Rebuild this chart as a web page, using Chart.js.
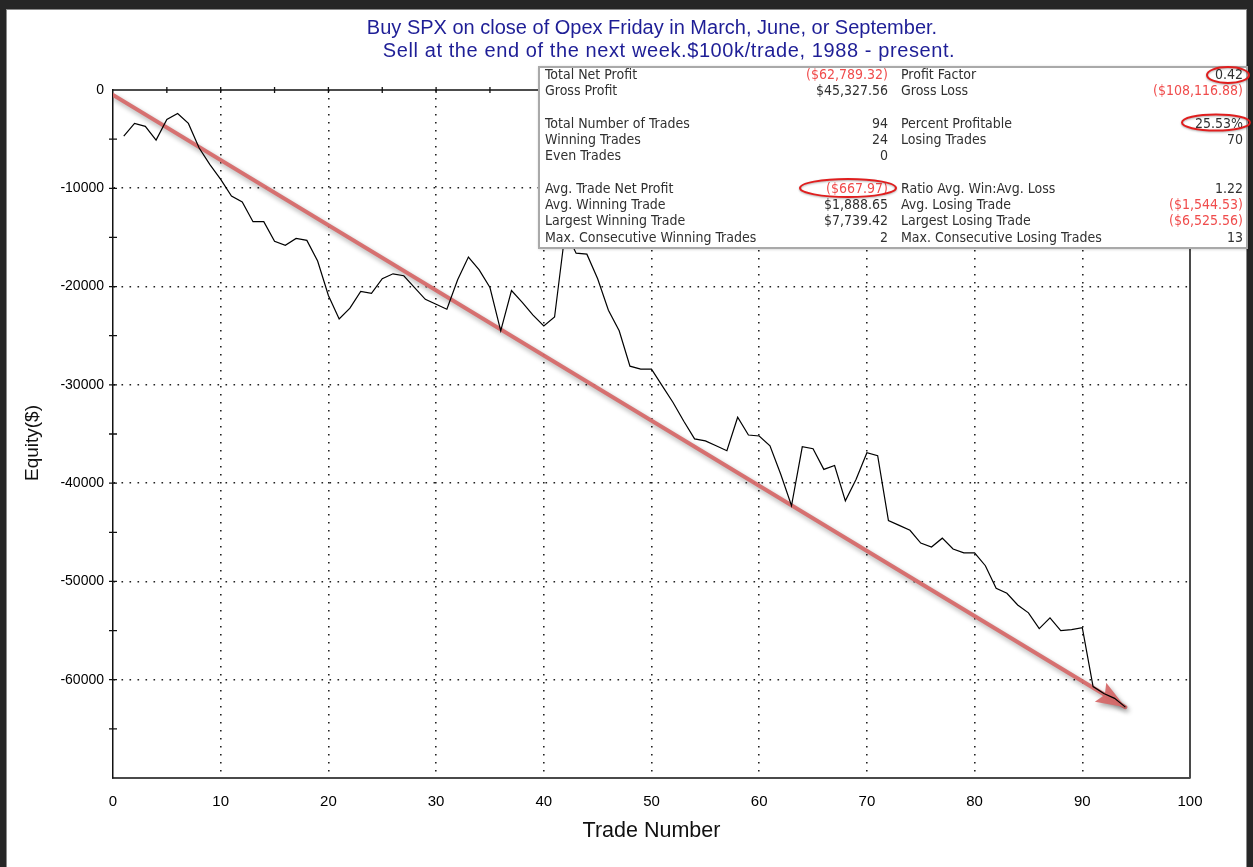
<!DOCTYPE html>
<html>
<head>
<meta charset="utf-8">
<script src="https://cdn.jsdelivr.net/npm/chart.js@4.4.1/dist/chart.umd.min.js"></script>
<style>
  html, body { margin: 0; padding: 0; background: #262626; }
  #wrap { width: 1253px; height: 867px; position: relative; }
</style>
</head>
<body>
<div id="wrap"><canvas id="equityChart"></canvas></div>
<script>
// trade number and equity (closed trade P/L running total)
const tradeNumbers = [
  1, 2, 3, 4, 5, 6, 7, 8, 9, 10, 11, 12, 13, 14, 15, 16, 17, 18, 19, 20,
  21, 22, 23, 24, 25, 26, 27, 28, 29, 30, 31, 32, 33, 34, 35, 36, 37, 38, 39, 40,
  41, 42, 43, 44, 45, 46, 47, 48, 49, 50, 51, 52, 53, 54, 55, 56, 57, 58, 59, 60,
  61, 62, 63, 64, 65, 66, 67, 68, 69, 70, 71, 72, 73, 74, 75, 76, 77, 78, 79, 80,
  81, 82, 83, 84, 85, 86, 87, 88, 89, 90, 91, 92, 93, 94
];
const equity = [
  -4700, -3400, -3700, -5100, -3000, -2400, -3400, -5900, -7600, -9100,
  -10800, -11400, -13400, -13400, -15400, -15800, -15100, -15300, -17400, -20900,
  -23300, -22200, -20500, -20700, -19200, -18700, -18900, -20100, -21300, -21800,
  -22300, -19300, -17000, -18300, -20100, -24500, -20400, -21600, -22900, -24000,
  -23100, -14300, -16600, -16700, -19200, -22400, -24500, -28100, -28400, -28400,
  -30100, -31800, -33700, -35500, -35700, -36200, -36700, -33300, -35100, -35200,
  -36200, -39100, -42300, -36300, -36500, -38600, -38200, -41800, -39600, -36900,
  -37200, -43800, -44300, -44800, -46100, -46500, -45600, -46700, -47100, -47100,
  -48400, -50700, -51200, -52400, -53200, -54800, -53700, -55000, -54900, -54700,
  -60700, -61400, -61900, -62789
];
// hand drawn trend arrow, start and end
const trendX = [0, 94];
const trendY = [-500, -62800];

const titleLines = [
  "Buy SPX on close of Opex Friday in March, June, or September.",
  "Sell at the end of the next week.$100k/trade, 1988 - present."
];

// performance summary box
const leftLabels = ["Total Net Profit", "Gross Profit", "", "Total Number of Trades", "Winning Trades", "Even Trades", "",
  "Avg. Trade Net Profit", "Avg. Winning Trade", "Largest Winning Trade", "Max. Consecutive Winning Trades"];
const leftValues = ["($62,789.32)", "$45,327.56", "", "94", "24", "0", "",
  "($667.97)", "$1,888.65", "$7,739.42", "2"];
const rightLabels = ["Profit Factor", "Gross Loss", "", "Percent Profitable", "Losing Trades", "", "",
  "Ratio Avg. Win:Avg. Loss", "Avg. Losing Trade", "Largest Losing Trade", "Max. Consecutive Losing Trades"];
const rightValues = ["0.42", "($108,116.88)", "", "25.53%", "70", "", "",
  "1.22", "($1,544.53)", "($6,525.56)", "13"];

const tickFont = "Liberation Sans, Arial, sans-serif";
const boxFont = "'DejaVu Sans Condensed', 'DejaVu Sans', sans-serif";
const trendColor = "rgba(214,106,106,0.95)";

const frame = {
  id: "frame",
  beforeDraw(chart) {
    const ctx = chart.ctx;
    ctx.save();
    ctx.fillStyle = "#262626";
    ctx.fillRect(0, 0, chart.width, chart.height);
    ctx.fillStyle = "#ffffff";
    ctx.fillRect(6, 9, 1241, 858);
    ctx.strokeStyle = "#8a8a8a";
    ctx.lineWidth = 1;
    ctx.strokeRect(6.5, 9.5, 1240, 860);
    ctx.restore();
  },
};

// shadow + arrow head for the trend line
const arrow = {
  id: "arrow",
  beforeDatasetDraw(chart, args) {
    if (args.index !== 1) return;
    const ctx = chart.ctx;
    ctx.save();
    ctx.shadowColor = "rgba(0,0,0,0.35)";
    ctx.shadowBlur = 5;
    ctx.shadowOffsetX = 2;
    ctx.shadowOffsetY = 3;
  },
  afterDatasetDraw(chart, args) {
    if (args.index !== 1) return;
    const ctx = chart.ctx;
    const xs = chart.scales.x, ys = chart.scales.y;
    const x0 = xs.getPixelForValue(trendX[0]), y0 = ys.getPixelForValue(trendY[0]);
    const x1 = xs.getPixelForValue(trendX[1]), y1 = ys.getPixelForValue(trendY[1]);
    const a = Math.atan2(y1 - y0, x1 - x0);
    const len = 29, half = 11;
    const bx = x1 - len * Math.cos(a), by = y1 - len * Math.sin(a);
    ctx.beginPath();
    ctx.moveTo(x1, y1);
    ctx.lineTo(bx + half * Math.sin(a), by - half * Math.cos(a));
    ctx.lineTo(bx + 5 * Math.cos(a), by + 5 * Math.sin(a));
    ctx.lineTo(bx - half * Math.sin(a), by + half * Math.cos(a));
    ctx.closePath();
    ctx.fillStyle = trendColor;
    ctx.fill();
    ctx.restore();
  },
};

const extras = {
  id: "extras",
  afterDraw(chart) {
    const ctx = chart.ctx;
    const area = chart.chartArea;
    const xs = chart.scales.x, ys = chart.scales.y;
    ctx.save();

    // right and top border, crossing tick marks
    ctx.strokeStyle = "#4a4a4a";
    ctx.lineWidth = 2;
    ctx.beginPath();
    ctx.moveTo(area.right, area.top);
    ctx.lineTo(area.right, area.bottom);
    ctx.stroke();
    ctx.strokeStyle = "#111";
    ctx.lineWidth = 1.5;
    ctx.beginPath();
    ctx.moveTo(area.left, area.top);
    ctx.lineTo(area.right, area.top);
    ctx.stroke();
    ctx.lineWidth = 1.3;
    ctx.beginPath();
    ys.ticks.forEach((t) => {
      if (t.value === 0 || t.value === -70000) return;
      const y = ys.getPixelForValue(t.value);
      ctx.moveTo(area.left - 4, y);
      ctx.lineTo(area.left + 4, y);
    });
    xs.ticks.forEach((t) => {
      if (t.value === 0 || t.value === 100) return;
      const x = xs.getPixelForValue(t.value);
      ctx.moveTo(x, area.top - 3);
      ctx.lineTo(x, area.top + 3);
    });
    ctx.stroke();

    // titles
    ctx.fillStyle = "#1e1e96";
    ctx.font = "20px " + tickFont;
    ctx.textAlign = "center";
    ctx.textBaseline = "middle";
    ctx.fillText(titleLines[0], 652, 28);
    ctx.letterSpacing = "0.6px";
    ctx.fillText(titleLines[1], 669, 51);
    ctx.letterSpacing = "0px";

    ctx.fillStyle = "#111";
    ctx.font = "21.5px " + tickFont;
    ctx.fillText("Trade Number", (area.left + area.right) / 2, 831);
    ctx.save();
    ctx.translate(33, 443);
    ctx.rotate(-Math.PI / 2);
    ctx.font = "19px " + tickFont;
    ctx.fillText("Equity($)", 0, 0);
    ctx.restore();

    // summary box
    ctx.save();
    ctx.shadowColor = "rgba(0,0,0,0.25)";
    ctx.shadowBlur = 3;
    ctx.shadowOffsetX = 1;
    ctx.shadowOffsetY = 1;
    ctx.fillStyle = "#fff";
    ctx.fillRect(538, 66, 710, 182);
    ctx.restore();
    ctx.strokeStyle = "#a9a9a9";
    ctx.lineWidth = 2;
    ctx.strokeRect(539, 67, 708, 181);

    ctx.font = "14px " + boxFont;
    ctx.textBaseline = "middle";
    const rowY = (i) => 75 + i * 16.3;
    for (let i = 0; i < leftLabels.length; i++) {
      const y = rowY(i);
      ctx.textAlign = "left";
      ctx.fillStyle = "#303030";
      ctx.fillText(leftLabels[i], 545, y);
      ctx.fillText(rightLabels[i], 901, y);
      ctx.textAlign = "right";
      ctx.fillStyle = leftValues[i].startsWith("(") ? "#f04c4c" : "#303030";
      ctx.fillText(leftValues[i], 888, y);
      ctx.fillStyle = rightValues[i].startsWith("(") ? "#f04c4c" : "#303030";
      ctx.fillText(rightValues[i], 1243, y);
    }

    // red circles around the key stats
    ctx.strokeStyle = "#e01e1e";
    ctx.lineWidth = 2;
    ctx.shadowColor = "rgba(0,0,0,0.3)";
    ctx.shadowBlur = 2;
    ctx.shadowOffsetY = 1;
    [[1228, 75, 21, 8], [1216, 122.5, 34, 8], [848, 188, 48, 9]].forEach(([cx, cy, rx, ry]) => {
      ctx.beginPath();
      ctx.ellipse(cx, cy, rx, ry, 0, 0, Math.PI * 2);
      ctx.stroke();
    });
    ctx.restore();
  },
};

const ctx = document.getElementById("equityChart").getContext("2d");
new Chart(ctx, {
  type: "line",
  data: {
    datasets: [
      {
        label: "Equity",
        data: tradeNumbers.map((t, i) => ({ x: t, y: equity[i] })),
        borderColor: "#000",
        borderWidth: 1.2,
        pointRadius: 0,
        tension: 0,
      },
      {
        label: "Trend",
        data: trendX.map((t, i) => ({ x: t, y: trendY[i] })),
        borderColor: trendColor,
        borderWidth: 4,
        pointRadius: 0,
        borderCapStyle: "round",
      },
    ],
  },
  options: {
    responsive: true,
    maintainAspectRatio: false,
    animation: false,
    devicePixelRatio: 1,
    layout: { padding: { top: 90, right: 63, left: 0, bottom: 0 } },
    plugins: {
      legend: { display: false },
      tooltip: { enabled: false },
      title: { display: false },
    },
    scales: {
      x: {
        type: "linear",
        min: 0,
        max: 100,
        afterFit: (s) => { s.height = 89; },
        ticks: {
          stepSize: 5,
          padding: 15,
          color: "#000",
          font: { family: tickFont, size: 15 },
          maxRotation: 0,
          autoSkip: false,
          callback: (v) => (v % 10 === 0 ? v : ""),
        },
        grid: {
          drawTicks: false,
          color: (c) => (c.tick && c.tick.value % 10 === 0 && c.tick.value > 0 && c.tick.value < 100 ? "#222" : "transparent"),
          lineWidth: 1.6,
        },
        border: { display: true, color: "#4a4a4a", width: 2, dash: [1.6, 6.4] },
      },
      y: {
        min: -70000,
        max: 0,
        afterFit: (s) => { s.width = 113; },
        ticks: {
          stepSize: 5000,
          padding: 9,
          color: "#000",
          font: { family: tickFont, size: 14 },
          autoSkip: false,
          callback: (v) => (v % 10000 === 0 && v > -70000 ? v : ""),
        },
        grid: {
          drawTicks: false,
          color: (c) => (c.tick && c.tick.value % 10000 === 0 && c.tick.value < 0 && c.tick.value > -70000 ? "#222" : "transparent"),
          lineWidth: 1.6,
        },
        border: { display: true, color: "#111", width: 1.5, dash: [1.6, 6.4] },
      },
    },
  },
  plugins: [frame, arrow, extras],
});
</script>
</body>
</html>
